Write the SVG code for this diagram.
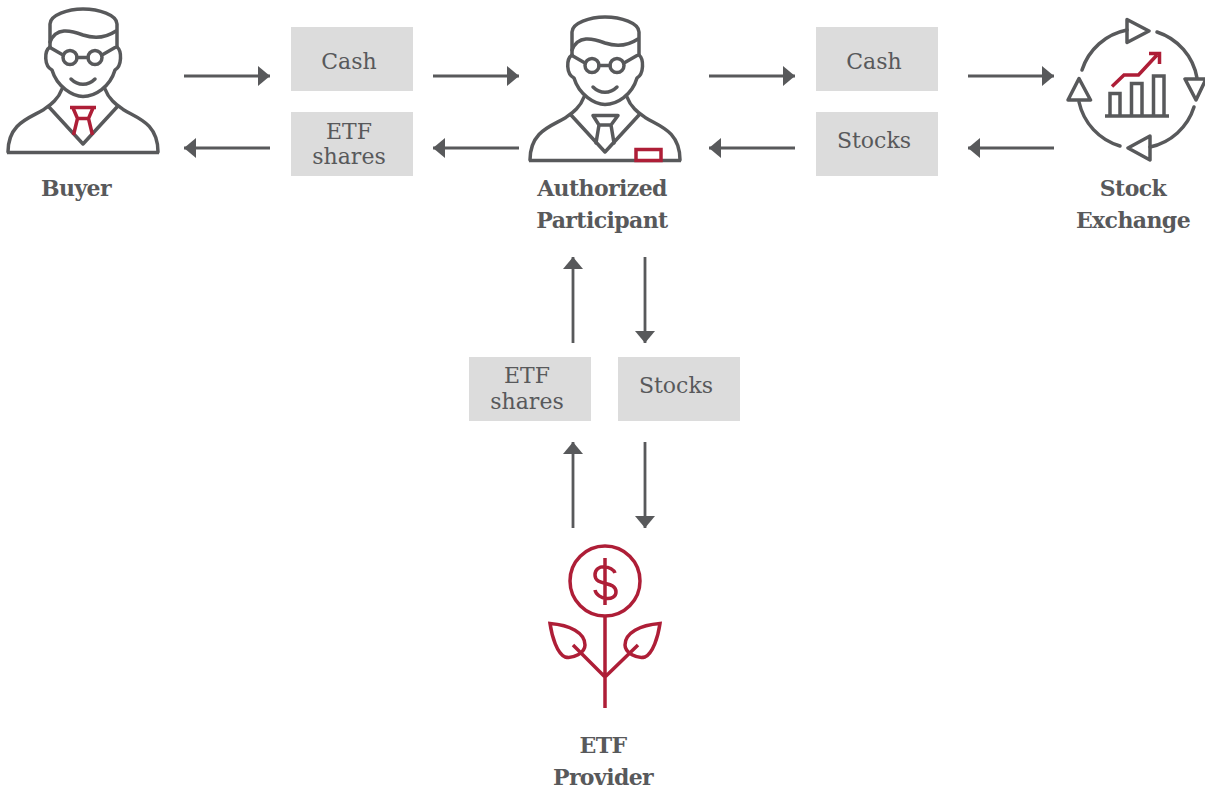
<svg xmlns="http://www.w3.org/2000/svg" width="1205" height="790" viewBox="0 0 1205 790">
<style>
.ln{fill:none;stroke:#58595b;stroke-width:3.500;stroke-linejoin:round;stroke-linecap:round}
.rd{fill:none;stroke:#ae1e37;stroke-width:3.500;stroke-linejoin:miter;stroke-linecap:butt}
.box{fill:#dcdcdc}
.c{stroke:#58595b;stroke-width:2.800;fill:none;marker-end:url(#ah)}
text{font-family:"DejaVu Serif","Liberation Serif",serif;fill:#58595b;text-anchor:middle}
.t{font-size:22px}
.b{font-size:22px;font-weight:bold;letter-spacing:-0.6px}
</style>
<defs>
<marker id="ah" markerUnits="userSpaceOnUse" markerWidth="14" markerHeight="22" refX="12" refY="11" orient="auto"><path d="M0,1 L12,11 L0,21 Z" fill="#58595b"/></marker>
<g id="person">
<path class="ln" d="M50,47 V24 C50,15 68,9 83,9 C99,9 117,15 117,24 V47"/>
<path class="ln" d="M50,42 C56,27 70,30 83,35 C95,39 107,37 116,31"/>
<path class="ln" d="M50,47 C44,51 44,66 52,70 C57,87 73,96.500 83,96.500 C95,96.500 110,87 115,70 C122,66 122,51 117,47"/>
<circle class="ln" cx="70" cy="57.500" r="7"/>
<circle class="ln" cx="95" cy="57.500" r="7"/>
<path class="ln" d="M77,57.500 H88 M63,55 L50,47.500 M102,55 L115,47.500"/>
<path class="ln" d="M71,79 C78,86 88,86 95,79"/>
<path class="ln" d="M62,89 C58,100 50,105 43,110 C30,118 8,123 8,152 M105,89 C109,100 117,105 124,110 C137,118 158,123 158,152"/>
<path class="ln" d="M49,107 L83,144 L117,107"/>
<path d="M7,152.500 H159" stroke="#58595b" stroke-width="3.500" fill="none"/>
</g>
</defs>

<g id="connectors">
<path class="c" d="M184,76 H270"/>
<path class="c" d="M270,148 H184"/>
<path class="c" d="M433,76 H519"/>
<path class="c" d="M519,148 H433"/>
<path class="c" d="M709,76 H795"/>
<path class="c" d="M795,148 H709"/>
<path class="c" d="M968,76 H1054"/>
<path class="c" d="M1054,148 H968"/>
<path class="c" d="M573,343 V257"/>
<path class="c" d="M645,257 V343"/>
<path class="c" d="M573,528 V442"/>
<path class="c" d="M645,442 V528"/>
</g>

<g id="buyer">
<use href="#person"/>
<path class="rd" d="M70,107.500 H96 M73,108 L77.500,118.500 H88.500 L93,108 M77.500,118.500 L73.500,135 M88.500,118.500 L92.500,135"/>
<text class="b" x="76" y="196">Buyer</text>
</g>

<g id="authorized-participant">
<use href="#person" x="522" y="8"/>
<path class="ln" d="M593,115.500 H618 L611,125 H599 Z M599,125 L596,143 M611,125 L614,143"/>
<rect x="636" y="149.500" width="25" height="11" fill="#fff" stroke="#ae1e37" stroke-width="3.500"/>
<text class="b" x="602" y="196">Authorized</text>
<text class="b" x="602" y="228">Participant</text>
</g>

<g id="stock-exchange">
<path class="ln" d="M1082,70 A59,59 0 0 1 1127,30 M1157,32 A59,59 0 0 1 1197,78 M1194,107 A59,59 0 0 1 1150,147 M1120,146 A59,59 0 0 1 1079,102"/>
<path class="ln" d="M1127,19.500 L1149,31 L1127,42.500 Z M1185,79 H1206 L1196,100 Z M1150,136 L1128,148 L1150,160 Z M1079,78.500 L1090.500,100 H1068 Z"/>
<path class="ln" style="stroke-linecap:butt;stroke-linejoin:miter" d="M1110,116 V93.500 H1120 V116 M1131.500,116 V83.500 H1142 V116 M1153.500,116 V76 H1164 V116 M1105,116 H1169"/>
<path class="rd" d="M1112,86.500 L1124,75 H1138.500 L1157,55 M1149,53.500 H1159.500 V64"/>
<text class="b" x="1133" y="196">Stock</text>
<text class="b" x="1133" y="228">Exchange</text>
</g>

<g id="etf-provider">
<circle class="rd" cx="605" cy="581" r="35"/>
<path class="rd" d="M605,616 V708 M605,677 L573,645 M605,677 L638,645"/>
<path class="rd" d="M550,623.500 C570,625 585,633 585,645 C585,653 573,659 565,657 C557,653 552,637 550,623.500 Z"/>
<path class="rd" d="M660,623.500 C640,625 625,633 625,645 C625,653 637,659 645,657 C653,653 658,637 660,623.500 Z"/>
<path class="rd" d="M605,558 V605 M615,573 C613,566 595,563 595,575 C595,587 616,580 616,592 C616,602 597,600 595,590"/>
<text class="b" x="603" y="753">ETF</text>
<text class="b" x="603" y="785">Provider</text>
</g>

<g id="cash-1"><rect class="box" x="291" y="27" width="122" height="64"/><text class="t" x="349" y="69">Cash</text></g>
<g id="etf-shares-1"><rect class="box" x="291" y="112" width="122" height="64"/><text class="t" x="349" y="139">ETF</text><text class="t" x="349" y="164">shares</text></g>
<g id="cash-2"><rect class="box" x="816" y="27" width="122" height="64"/><text class="t" x="874" y="69">Cash</text></g>
<g id="stocks-1"><rect class="box" x="816" y="112" width="122" height="64"/><text class="t" x="874" y="148">Stocks</text></g>
<g id="etf-shares-2"><rect class="box" x="469" y="357" width="122" height="64"/><text class="t" x="527" y="383">ETF</text><text class="t" x="527" y="409">shares</text></g>
<g id="stocks-2"><rect class="box" x="618" y="357" width="122" height="64"/><text class="t" x="676" y="393">Stocks</text></g>
</svg>
